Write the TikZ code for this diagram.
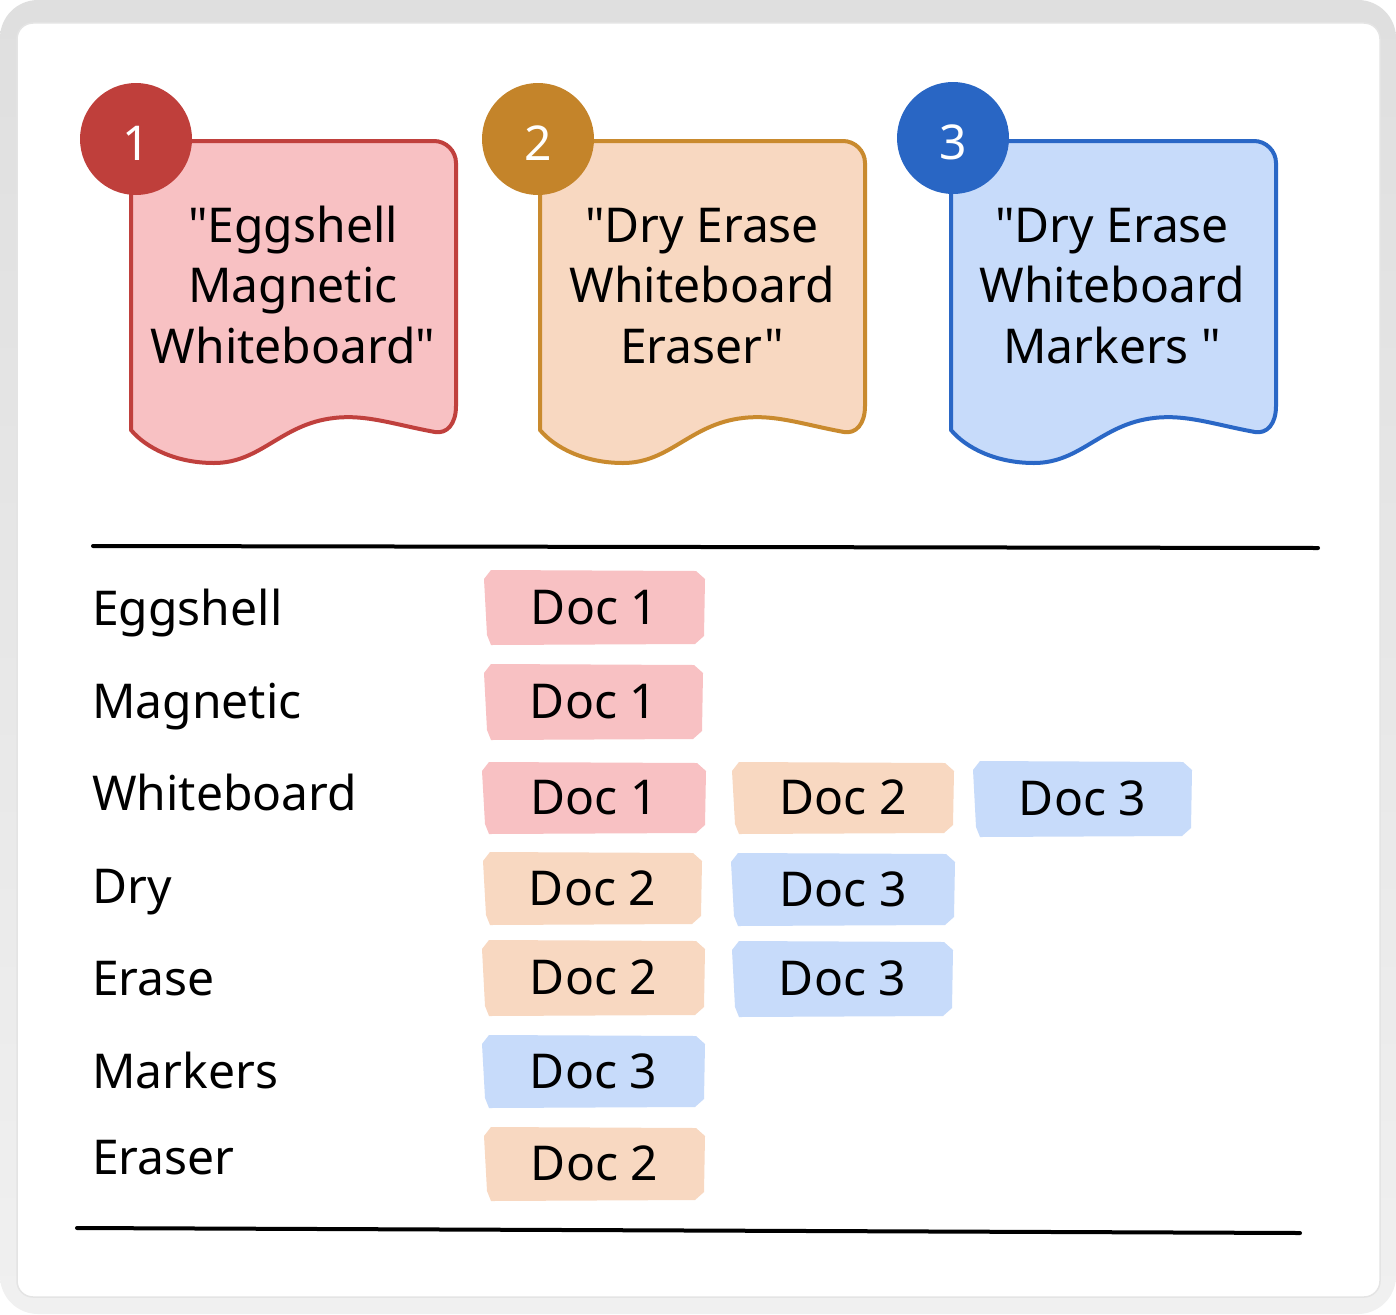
\documentclass[tikz,border=0pt]{standalone}
\usepackage{fontspec}
\setmainfont{Noto Sans}[Ligatures=TeXOff]
\usetikzlibrary{calc}
\definecolor{redS}{HTML}{C0403D}
\definecolor{redF}{HTML}{F8C1C3}
\definecolor{redC}{HTML}{BF3F3B}
\definecolor{orS}{HTML}{C98A2E}
\definecolor{orF}{HTML}{F8D8C1}
\definecolor{orC}{HTML}{C4842A}
\definecolor{blS}{HTML}{2A67C6}
\definecolor{blF}{HTML}{C7DBFA}
\definecolor{blC}{HTML}{2966C4}
\definecolor{frameT}{HTML}{DFDFDF}
\definecolor{frameB}{HTML}{F0F0F0}
\definecolor{frameL}{HTML}{E4E4E4}
\newcommand\bigfont{\fontsize{48}{58}\selectfont}
\newcommand\lowdigit[1]{\raisebox{-4pt}[34pt][0pt]{#1}}
\tikzset{
  lbl/.style={anchor=base west, inner sep=0pt, font=\bigfont},
  doctext/.style={anchor=base, inner sep=0pt, font=\bigfont},
  tagtext/.style={anchor=base, inner sep=0pt, font=\bigfont},
  numcircle/.style={circle, minimum size=112pt, inner sep=0pt, text=white, font=\bigfont},
  paper/.style={line width=4pt, line join=round},
  rule/.style={line width=4pt, line cap=round},
}
% #1 left x, #2 fill, #3 stroke
\newcommand\docpaper[3]{%
  \filldraw[paper, fill=#2, draw=#3]
    (#1,141) -- ({#1+303},141) .. controls ({#1+315},141) and ({#1+325},151) .. ({#1+325},163)
    -- ({#1+325},406) .. controls ({#1+325},424) and ({#1+316},434) .. ({#1+304},432)
    .. controls ({#1+265},425) and ({#1+235},414) .. ({#1+203},418)
    .. controls ({#1+150},424) and ({#1+130},463) .. ({#1+83},463)
    .. controls ({#1+45},463) and ({#1+15},448) .. (#1,430) -- cycle;}
% #1 name, #2 x1, #3 y1, #4 x2, #5 y2, #6 fill, #7 text
\newcommand\tagbox[7]{%
  \fill[#6] ({#2+7},#3) -- ({#4-9},{#3+1}) -- (#4,{#3+9}) -- ({#4-1},{#5-8}) -- ({#4-10},#5)
    -- ({#2+7},{#5+1}) -- ({#2+3},{#5-9}) -- (#2,{#3+9}) -- cycle;
  \node[tagtext] (#1) at ({(#2+#4)/2},{(#3+#5)/2+17}) {#7};}
\begin{document}
\begin{tikzpicture}[x=1pt, y=-1pt]
\useasboundingbox (0,0) rectangle (1396,1314);
\shade[top color=frameT, bottom color=frameB, rounded corners=38pt] (0,0) rectangle (1396,1314);
\filldraw[fill=white, draw=frameL, line width=1.5pt, rounded corners=16pt] (17,23) rectangle (1380,1297);

% documents
\docpaper{131}{redF}{redS}
\docpaper{540}{orF}{orS}
\docpaper{951}{blF}{blS}

\node[doctext] (d1a) at (293,242) {"Eggshell};
\node[doctext] (d1b) at (293,302) {Magnetic};
\node[doctext] (d1c) at (293,363) {Whiteboard"};
\node[doctext] (d2a) at (702,242) {"Dry Erase};
\node[doctext] (d2b) at (702,302) {Whiteboard};
\node[doctext] (d2c) at (702,363) {Eraser"};
\node[doctext] (d3a) at (1112,242) {"Dry Erase};
\node[doctext] (d3b) at (1112,302) {Whiteboard};
\node[doctext] (d3c) at (1112,363) {Markers "};

\node[numcircle, fill=redC] (c1) at (136,139) {\lowdigit{1}};
\node[numcircle, fill=orC] (c2) at (538,139) {\lowdigit{2}};
\node[numcircle, fill=blC] (c3) at (953,138) {\lowdigit{3}};

% rules
\coordinate (r1a) at (93,546);
\coordinate (r1b) at (1318,548);
\coordinate (r2a) at (77,1228);
\coordinate (r2b) at (1300,1233);
\draw[rule] (r1a) -- (r1b);
\draw[rule] (r2a) -- (r2b);

% labels
\node[lbl] (l1) at (92,625) {Eggshell};
\node[lbl] (l2) at (92,718) {Magnetic};
\node[lbl] (l3) at (92,810) {Whiteboard};
\node[lbl] (l4) at (92,903) {Dry};
\node[lbl] (l5) at (92,995) {Erase};
\node[lbl] (l6) at (92,1088) {Markers};
\node[lbl] (l7) at (92,1174) {Eraser};

% tags
\tagbox{t11}{484}{570}{705}{644}{redF}{Doc 1}
\tagbox{t21}{484}{664}{703}{739}{redF}{Doc 1}
\tagbox{t31}{482}{762}{706}{833}{redF}{Doc 1}
\tagbox{t32}{732}{762}{954}{833}{orF}{Doc 2}
\tagbox{t33}{973}{761}{1192}{836}{blF}{Doc 3}
\tagbox{t41}{483}{852}{702}{924}{orF}{Doc 2}
\tagbox{t42}{731}{853}{955}{925}{blF}{Doc 3}
\tagbox{t51}{482}{940}{705}{1015}{orF}{Doc 2}
\tagbox{t52}{732}{941}{953}{1016}{blF}{Doc 3}
\tagbox{t61}{482}{1035}{705}{1107}{blF}{Doc 3}
\tagbox{t71}{484}{1127}{705}{1200}{orF}{Doc 2}
\end{tikzpicture}
\end{document}
